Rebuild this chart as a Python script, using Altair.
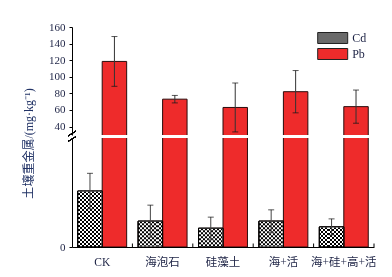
import altair as alt
import pandas as pd

groups = ["CK", "海泡石", "硅藻土", "海+活", "海+硅+高+活"]
metals = ["Cd", "Pb"]
pb_mean = [118.5, 73.0, 63.0, 82.0, 64.0]
pb_err = [30.0, 4.5, 29.5, 25.5, 20.0]
cd_mean = [0.513, 0.237, 0.172, 0.237, 0.184]
cd_err = [0.163, 0.147, 0.102, 0.104, 0.074]

rows = []
for g, m, e in zip(groups, cd_mean, cd_err):
    rows.append(dict(group=g, metal="Cd", value=m, lo=m - e, hi=m + e))
for g, m, e in zip(groups, pb_mean, pb_err):
    rows.append(dict(group=g, metal="Pb", value=m, lo=m - e, hi=m + e))
df = pd.DataFrame(rows)

FONT = "Liberation Serif, Times New Roman, Noto Sans CJK SC"
TXT = "#1d2345"
RED = "#ee2b2b"
EDGE = "#2a0c0c"
W = 302
H = 108
HB = 109

xscale = alt.Scale(paddingInner=0.19, paddingOuter=0.095)


def xenc(axis=None, **kw):
    return alt.X("group:N", sort=groups, scale=xscale, axis=axis, **kw)


xoff = alt.XOffset("metal:N", sort=metals, scale=alt.Scale(paddingInner=0, paddingOuter=0))

color = alt.Color(
    "metal:N",
    scale=alt.Scale(domain=metals, range=["#6a6a6a", RED]),
    legend=alt.Legend(
        orient="none", legendX=252.7, legendY=3, title=None,
        symbolType="M-2,-0.733H2V0.733H-2Z", symbolSize=225,
        symbolStrokeColor="#222222", symbolStrokeWidth=1, symbolOpacity=1,
        labelFont=FONT, labelFontSize=12, labelColor=TXT, labelOffset=11.5,
        rowPadding=0,
    ),
)

# ---------- top panel (Pb, 40-160) ----------
ytop = alt.Scale(domain=[29.8, 160], nice=False, zero=False)
top_axis = alt.Axis(
    values=[40, 60, 80, 100, 120, 140, 160],
    title="土壤重金属/(mg·kg⁻¹)", titleX=-37, titleY=116, titleAngle=270,
    titleAlign="center", titleBaseline="bottom", titleFont=FONT,
    titleFontSize=12, titleFontWeight="normal", titleColor="#223366",
    labelFont=FONT, labelFontSize=11, labelColor=TXT, labelPadding=4,
    tickSize=3, tickColor="black", domainColor="black", grid=False,
    labelOverlap=False,
)
tb = alt.Chart(df).transform_filter("datum.metal == 'Pb'")
top_bars = tb.mark_bar(clip=True, stroke=EDGE, strokeWidth=1).encode(
    x=xenc(), xOffset=xoff,
    y=alt.Y("value:Q", scale=ytop, axis=top_axis), y2=alt.datum(0),
    color=color,
)
top_err = tb.mark_rule(clip=True, color="#333333", strokeWidth=1).encode(
    x=xenc(), xOffset=xoff, y=alt.Y("lo:Q", scale=ytop, axis=top_axis), y2="hi:Q"
)
top_cap_hi = tb.mark_tick(clip=True, color="#111111", size=6, thickness=1, orient="horizontal").encode(
    x=xenc(), xOffset=xoff, y=alt.Y("hi:Q", scale=ytop, axis=top_axis)
)
top_cap_lo = tb.mark_tick(clip=True, color="#111111", size=6, thickness=1, orient="horizontal").encode(
    x=xenc(), xOffset=xoff, y=alt.Y("lo:Q", scale=ytop, axis=top_axis)
)
top = alt.layer(top_bars, top_err, top_cap_hi, top_cap_lo).properties(width=W, height=H)

# ---------- bottom panel (Cd, 0 - ) ----------
ybot = alt.Scale(domain=[0, 1.0], nice=False)
bot_axis = alt.Axis(
    values=[0], title=None, labelFont=FONT, labelFontSize=11, labelColor=TXT,
    labelPadding=4, tickSize=3, tickColor="black", domainColor="black", grid=False,
)
x_axis = alt.Axis(
    title=None, labelAngle=0, labelFont=FONT, labelFontSize=11.5, labelColor=TXT,
    labelPadding=9, ticks=False, domainColor="black", grid=False,
)
bb = alt.Chart(df)
cd = bb.transform_filter("datum.metal == 'Cd'")

stops = []
n = 6
for i in range(n):
    stops += [
        alt.GradientStop(offset=i / n, color="black"),
        alt.GradientStop(offset=(i + 0.5) / n, color="black"),
        alt.GradientStop(offset=(i + 0.5) / n, color="white"),
        alt.GradientStop(offset=(i + 1) / n, color="white"),
    ]
stripes = alt.LinearGradient(gradient="linear", stops=stops, x1=0, x2=1, y1=0, y2=0)

bot_bars = bb.mark_bar(clip=True, stroke=EDGE, strokeWidth=1).encode(
    x=xenc(x_axis), xOffset=xoff,
    y=alt.Y("value:Q", scale=ybot, axis=bot_axis), y2=alt.datum(0),
    color=color,
)
cd_fill = cd.mark_bar(fill=stripes, stroke="black", strokeWidth=1).encode(
    x=xenc(x_axis), xOffset=xoff, y=alt.Y("value:Q", scale=ybot, axis=bot_axis), y2=alt.datum(0)
)
cd_dash = cd.mark_rule(color="white", strokeWidth=23.5, strokeDash=[2, 2], strokeCap="butt",
                       blend="difference").encode(
    x=xenc(x_axis), xOffset=xoff, y=alt.Y("value:Q", scale=ybot, axis=bot_axis), y2=alt.datum(0)
)
cd_edge = cd.mark_bar(fillOpacity=0, stroke="black", strokeWidth=1).encode(
    x=xenc(x_axis), xOffset=xoff, y=alt.Y("value:Q", scale=ybot, axis=bot_axis), y2=alt.datum(0)
)
cd_err_rule = cd.mark_rule(color="#444444", strokeWidth=1).encode(
    x=xenc(x_axis), xOffset=xoff, y=alt.Y("lo:Q", scale=ybot, axis=bot_axis), y2="hi:Q"
)
cd_cap_hi = cd.mark_tick(color="#111111", size=6, thickness=1, orient="horizontal").encode(
    x=xenc(x_axis), xOffset=xoff, y=alt.Y("hi:Q", scale=ybot, axis=bot_axis)
)
cd_cap_lo = cd.mark_tick(color="#444444", size=6, thickness=1, orient="horizontal").encode(
    x=xenc(x_axis), xOffset=xoff, y=alt.Y("lo:Q", scale=ybot, axis=bot_axis)
)
gtick = alt.Chart(pd.DataFrame({"group": groups})).mark_rule(color="black", strokeWidth=1, xOffset=5.74).encode(
    x=xenc(x_axis, bandPosition=1), y=alt.value(HB), y2=alt.value(HB - 3.5)
)
slash1 = bb.mark_rule(color="black", strokeWidth=1).encode(
    x=alt.value(-4), x2=alt.value(4), y=alt.value(-2), y2=alt.value(-7)
)
slash2 = bb.mark_rule(color="black", strokeWidth=1).encode(
    x=alt.value(-4), x2=alt.value(4), y=alt.value(3.5), y2=alt.value(-1.5)
)
bottom = alt.layer(bot_bars, cd_fill, cd_dash, cd_edge, cd_err_rule, cd_cap_hi, cd_cap_lo,
                   gtick, slash1, slash2).properties(width=W, height=HB)

chart = alt.vconcat(top, bottom, spacing=3, bounds="flush").properties(
    padding={"left": 22, "top": 21, "right": 0, "bottom": 0},
    background="white",
).configure_view(stroke=None).configure_axis(grid=False)

chart.save("out.html", embed_options={"renderer": "svg", "actions": False})
